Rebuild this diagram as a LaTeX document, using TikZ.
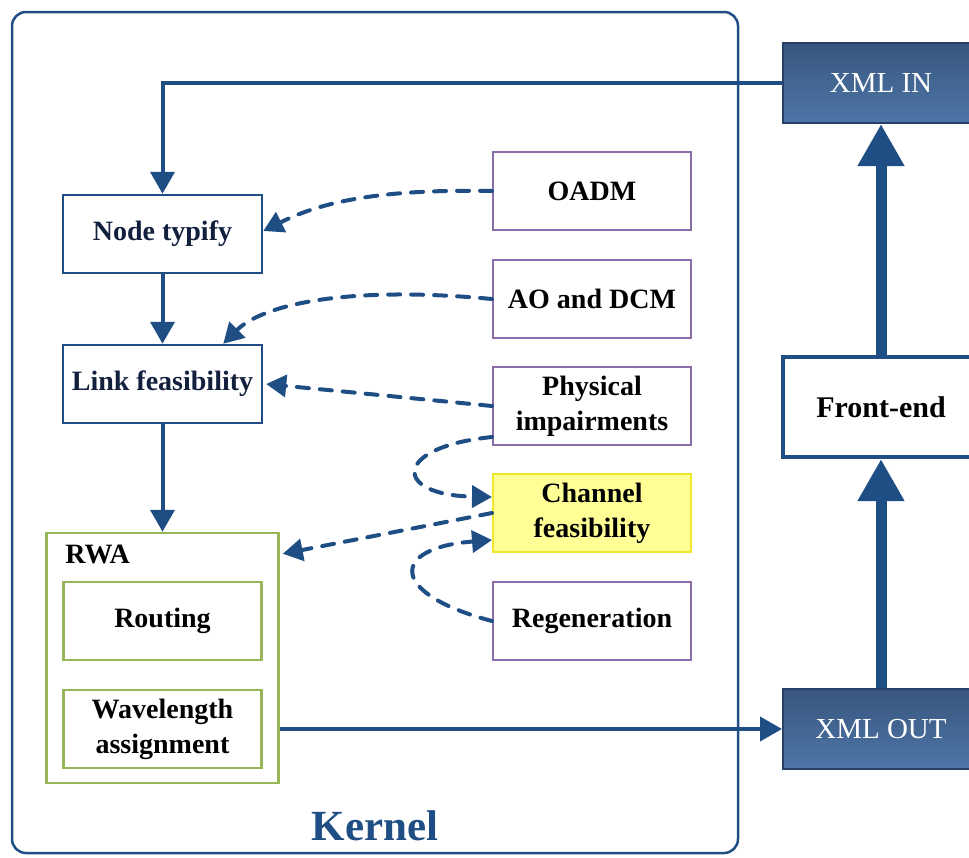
\documentclass[tikz,border=0pt]{standalone}
\usepackage{fontspec}
\setmainfont{Liberation Serif}
\usepackage{xcolor}
\usetikzlibrary{arrows.meta,shapes.misc,positioning}

\definecolor{kblue}{RGB}{31,78,132}
\definecolor{knavy}{RGB}{18,32,62}
\definecolor{optpurple}{RGB}{140,110,170}
\definecolor{rwagreen}{RGB}{150,182,88}
\definecolor{chanfill}{RGB}{255,255,150}
\definecolor{chanline}{RGB}{238,232,40}
\definecolor{xmltop}{RGB}{56,86,126}
\definecolor{xmlbot}{RGB}{78,118,168}
\definecolor{xmlline}{RGB}{38,66,104}

\begin{document}
\begin{tikzpicture}[x=1pt, y=-1pt, node distance=28pt,
  txt/.style={font=\bfseries\fontsize{28}{35}\selectfont, align=center, inner sep=0pt},
  blk/.style={txt, draw=kblue, line width=2.5pt, fill=white, text=knavy,
    minimum width=199pt, minimum height=78pt},
  opt/.style={txt, draw=optpurple, line width=2pt, fill=white,
    minimum width=198pt, minimum height=78pt},
  sub/.style={txt, draw=rwagreen, line width=2.5pt, fill=white,
    minimum width=198pt, minimum height=78pt},
  xml/.style={draw=xmlline, line width=2pt, top color=xmltop, bottom color=xmlbot,
    text=white, font=\fontsize{29}{35}\selectfont, minimum width=196pt, minimum height=80pt},
  flow/.style={draw=kblue, line width=4pt, -{Triangle[length=22pt,width=24pt]}},
  dflow/.style={draw=kblue, line width=4pt, dash pattern=on 12pt off 11pt, line cap=round,
    -{Triangle[length=20pt,width=22pt]}},
  big/.style={draw=kblue, line width=11pt, -{Triangle[length=42pt,width=44pt]}}]
\useasboundingbox (0,0) rectangle (969,857);

% kernel frame
\draw[kblue, line width=2.5pt, rounded corners=14pt] (12,12) rectangle (738,853);
\node (kernel) [font=\bfseries\fontsize{43}{45}\selectfont, text=kblue] at (375,826) {Kernel};

% main chain
\node (typify) [blk] at (162.5,234) {Node typify};
\node (link) [blk, below=69.5pt of typify] {Link feasibility};
\node (rwa) [draw=rwagreen, line width=2.5pt, fill=white, minimum width=232pt,
  minimum height=250pt, below=107.5pt of link] {};
\node (rwalbl) [txt, anchor=west] at ([xshift=20pt, yshift=-23pt]rwa.north west) {RWA};
\node (routing) [sub, below=49pt of rwa.north] {Routing};
\node (wave) [sub, below=27.5pt of routing] {Wavelength\\assignment};

% option blocks
\node (oadm) [opt] at (592,191) {OADM};
\node (aodcm) [opt, below=of oadm] {AO and DCM};
\node (phys) [opt, below=27pt of aodcm] {Physical\\impairments};
\node (chan) [opt, below=27pt of phys, draw=chanline, fill=chanfill] {Channel\\feasibility};
\node (regen) [opt, below=of chan] {Regeneration};

% front-end column
\node (xmlin) [xml] at (881,83) {XML IN};
\node (front) [txt, draw=kblue, line width=4pt, fill=white, minimum width=196pt,
  minimum height=100pt, font=\bfseries\fontsize{30}{35}\selectfont] at (881,407) {Front-end};
\node (xmlout) [xml] at (881,729) {XML OUT};

% solid connectors
\draw[flow] (xmlin.west) -| (typify.north);
\draw[flow] (typify) -- (link);
\draw[flow] (link) -- (rwa);
\draw[flow] (rwa.east |- xmlout.west) -- (xmlout.west);
\draw[big] (front) -- (xmlin);
\draw[big] (xmlout) -- (front);

% dashed connectors
\draw[dflow] (oadm.west) .. controls +(-110,-2) and +(60,-30) .. ([yshift=3pt]typify.east);
\draw[dflow] (aodcm.west) .. controls +(-150,-14) and +(38,-38) .. ([xshift=-40pt]link.north east);
\draw[dflow] (phys.west) -- ([xshift=3pt]link.east);
\draw[dflow] ([yshift=-31pt]phys.west) .. controls +(-100,10) and +(-100,-2) .. ([yshift=16pt]chan.west);
\draw[dflow] (chan.west) -- ([xshift=3pt, yshift=-22pt]rwa.north east);
\draw[dflow] (regen.west) .. controls +(-103,-27) and +(-103,8) .. ([yshift=-27pt]chan.west);
\end{tikzpicture}
\end{document}
